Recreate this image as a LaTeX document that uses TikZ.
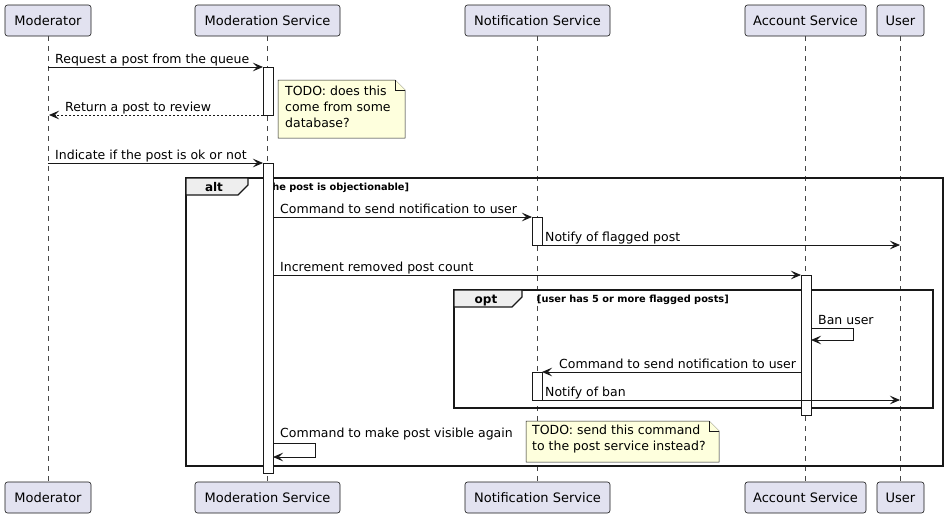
\documentclass[tikz,border=0pt]{standalone}
\usepackage{fontspec}
\setmainfont{DejaVu Sans}
\usetikzlibrary{arrows.meta}
\definecolor{partfill}{HTML}{E2E2F0}
\definecolor{lineclr}{HTML}{181818}
\definecolor{notefill}{HTML}{FEFFDD}
\definecolor{tabfill}{HTML}{EEEEEE}
\begin{document}
\begin{tikzpicture}[x=1pt,y=-1pt,
  part/.style={draw=lineclr, fill=partfill, rounded corners=2.5pt, minimum height=31pt, inner sep=0pt, font=\fontsize{13}{15}\selectfont, line width=0.6pt},
  lifeline/.style={draw=lineclr!80, line width=0.5pt, dash pattern=on 5pt off 5pt},
  actbox/.style={draw=lineclr, fill=white, line width=0.8pt},
  msg/.style={draw=lineclr, line width=0.8pt, -{Stealth[length=10pt,width=8.5pt,inset=4pt]}},
  retmsg/.style={msg, dash pattern=on 2pt off 2pt},
  lbl/.style={anchor=base west, inner sep=0pt, font=\fontsize{12.5}{14}\selectfont},
  cond/.style={anchor=base west, inner sep=0pt, font=\bfseries\fontsize{9.8}{11}\selectfont},
  tablbl/.style={anchor=base, inner sep=0pt, font=\bfseries\fontsize{12}{13}\selectfont},
  frame/.style={draw=lineclr, line width=1.5pt},
  tab/.style={draw=lineclr, fill=tabfill, line width=1.2pt},
  notebox/.style={draw=lineclr, fill=notefill, line width=0.5pt},
  notetxt/.style={anchor=north west, inner sep=0pt, align=left, font=\fontsize{12.5}{16}\selectfont}
]
\useasboundingbox (0,0) rectangle (947,517);
\fill[white] (0,0) rectangle (947,517);

% participants
\node[part, minimum width=86pt] (modT) at (48,20.5) {Moderator};
\node[part, minimum width=145pt] (msT) at (267.5,20.5) {Moderation Service};
\node[part, minimum width=145pt] (nsT) at (537.5,20.5) {Notification Service};
\node[part, minimum width=121pt] (asT) at (805.5,20.5) {Account Service};
\node[part, minimum width=47pt] (usT) at (900.5,20.5) {User};
\node[part, minimum width=86pt] (modB) at (48,497.5) {Moderator};
\node[part, minimum width=145pt] (msB) at (267.5,497.5) {Moderation Service};
\node[part, minimum width=145pt] (nsB) at (537.5,497.5) {Notification Service};
\node[part, minimum width=121pt] (asB) at (805.5,497.5) {Account Service};
\node[part, minimum width=47pt] (usB) at (900.5,497.5) {User};

% lifelines
\draw[lifeline] (modT.south) -- (modB.north);
\draw[lifeline] (msT.south) -- (msB.north);
\draw[lifeline] (nsT.south) -- (nsB.north);
\draw[lifeline] (asT.south) -- (asB.north);
\draw[lifeline] (usT.south) -- (usB.north);

% alt frame
\draw[frame] (186,178) rectangle (943,466);
\draw[tab] (186,178) -- (248,178) -- (248,185) -- (238,195) -- (186,195) -- cycle;
\node[tablbl] (altl) at (214,191) {alt};
\node[cond] (altc) at (263,190) {[the post is objectionable]};

% opt frame
\draw[frame] (454,290) rectangle (933,408);
\draw[tab] (454,290) -- (522,290) -- (522,297) -- (512,307) -- (454,307) -- cycle;
\node[tablbl] (optl) at (486,303) {opt};
\node[cond] (optc) at (537,302) {[user has 5 or more flagged posts]};

% activations
\draw[actbox] (263,67) rectangle (273,115);
\draw[actbox] (263,163) rectangle (273,473);
\draw[actbox] (532,217) rectangle (542,245);
\draw[actbox] (801,275) rectangle (811,415);
\draw[actbox] (532,372) rectangle (542,400);

% note 1
\draw[notebox] (278,80) -- (395,80) -- (405,90) -- (405,138) -- (278,138) -- cycle;
\draw[notebox] (395,80) -- (395,90) -- (405,90);
\node[notetxt] (n1) at (285,86) {TODO: does this\\come from some\\database?};

% note 2
\draw[notebox] (526,421) -- (709,421) -- (719,431) -- (719,462) -- (526,462) -- cycle;
\draw[notebox] (709,421) -- (709,431) -- (719,431);
\node[notetxt] (n2) at (532,425) {TODO: send this command\\to the post service instead?};

% messages
\coordinate (m1s) at (48,67); \coordinate (m1e) at (263,67);
\draw[msg] (m1s) -- (m1e);
\node[lbl] (l1) at (55,63) {Request a post from the queue};

\coordinate (m2s) at (263,115); \coordinate (m2e) at (49,115);
\draw[retmsg] (m2s) -- (m2e);
\node[lbl] (l2) at (65,111) {Return a post to review};

\coordinate (m3s) at (48,163); \coordinate (m3e) at (263,163);
\draw[msg] (m3s) -- (m3e);
\node[lbl] (l3) at (55,159) {Indicate if the post is ok or not};

\coordinate (m4s) at (273,217); \coordinate (m4e) at (532,217);
\draw[msg] (m4s) -- (m4e);
\node[lbl] (l4) at (280,213) {Command to send notification to user};

\coordinate (m5s) at (542,245); \coordinate (m5e) at (900,245);
\draw[msg] (m5s) -- (m5e);
\node[lbl] (l5) at (545,241) {Notify of flagged post};

\coordinate (m6s) at (273,275); \coordinate (m6e) at (801,275);
\draw[msg] (m6s) -- (m6e);
\node[lbl] (l6) at (280,271) {Increment removed post count};

\coordinate (m7s) at (811,328); \coordinate (m7a) at (853,328); \coordinate (m7b) at (853,340); \coordinate (m7e) at (811,340);
\draw[msg] (m7s) -- (m7a) -- (m7b) -- (m7e);
\node[lbl] (l7) at (818,324) {Ban user};

\coordinate (m8s) at (801,372); \coordinate (m8e) at (542,372);
\draw[msg] (m8s) -- (m8e);
\node[lbl] (l8) at (559,368) {Command to send notification to user};

\coordinate (m9s) at (542,400); \coordinate (m9e) at (900,400);
\draw[msg] (m9s) -- (m9e);
\node[lbl] (l9) at (545,396) {Notify of ban};

\coordinate (m10s) at (273,443); \coordinate (m10a) at (315,443); \coordinate (m10b) at (315,457); \coordinate (m10e) at (273,457);
\draw[msg] (m10s) -- (m10a) -- (m10b) -- (m10e);
\node[lbl] (l10) at (280,437) {Command to make post visible again};
\end{tikzpicture}
\end{document}
